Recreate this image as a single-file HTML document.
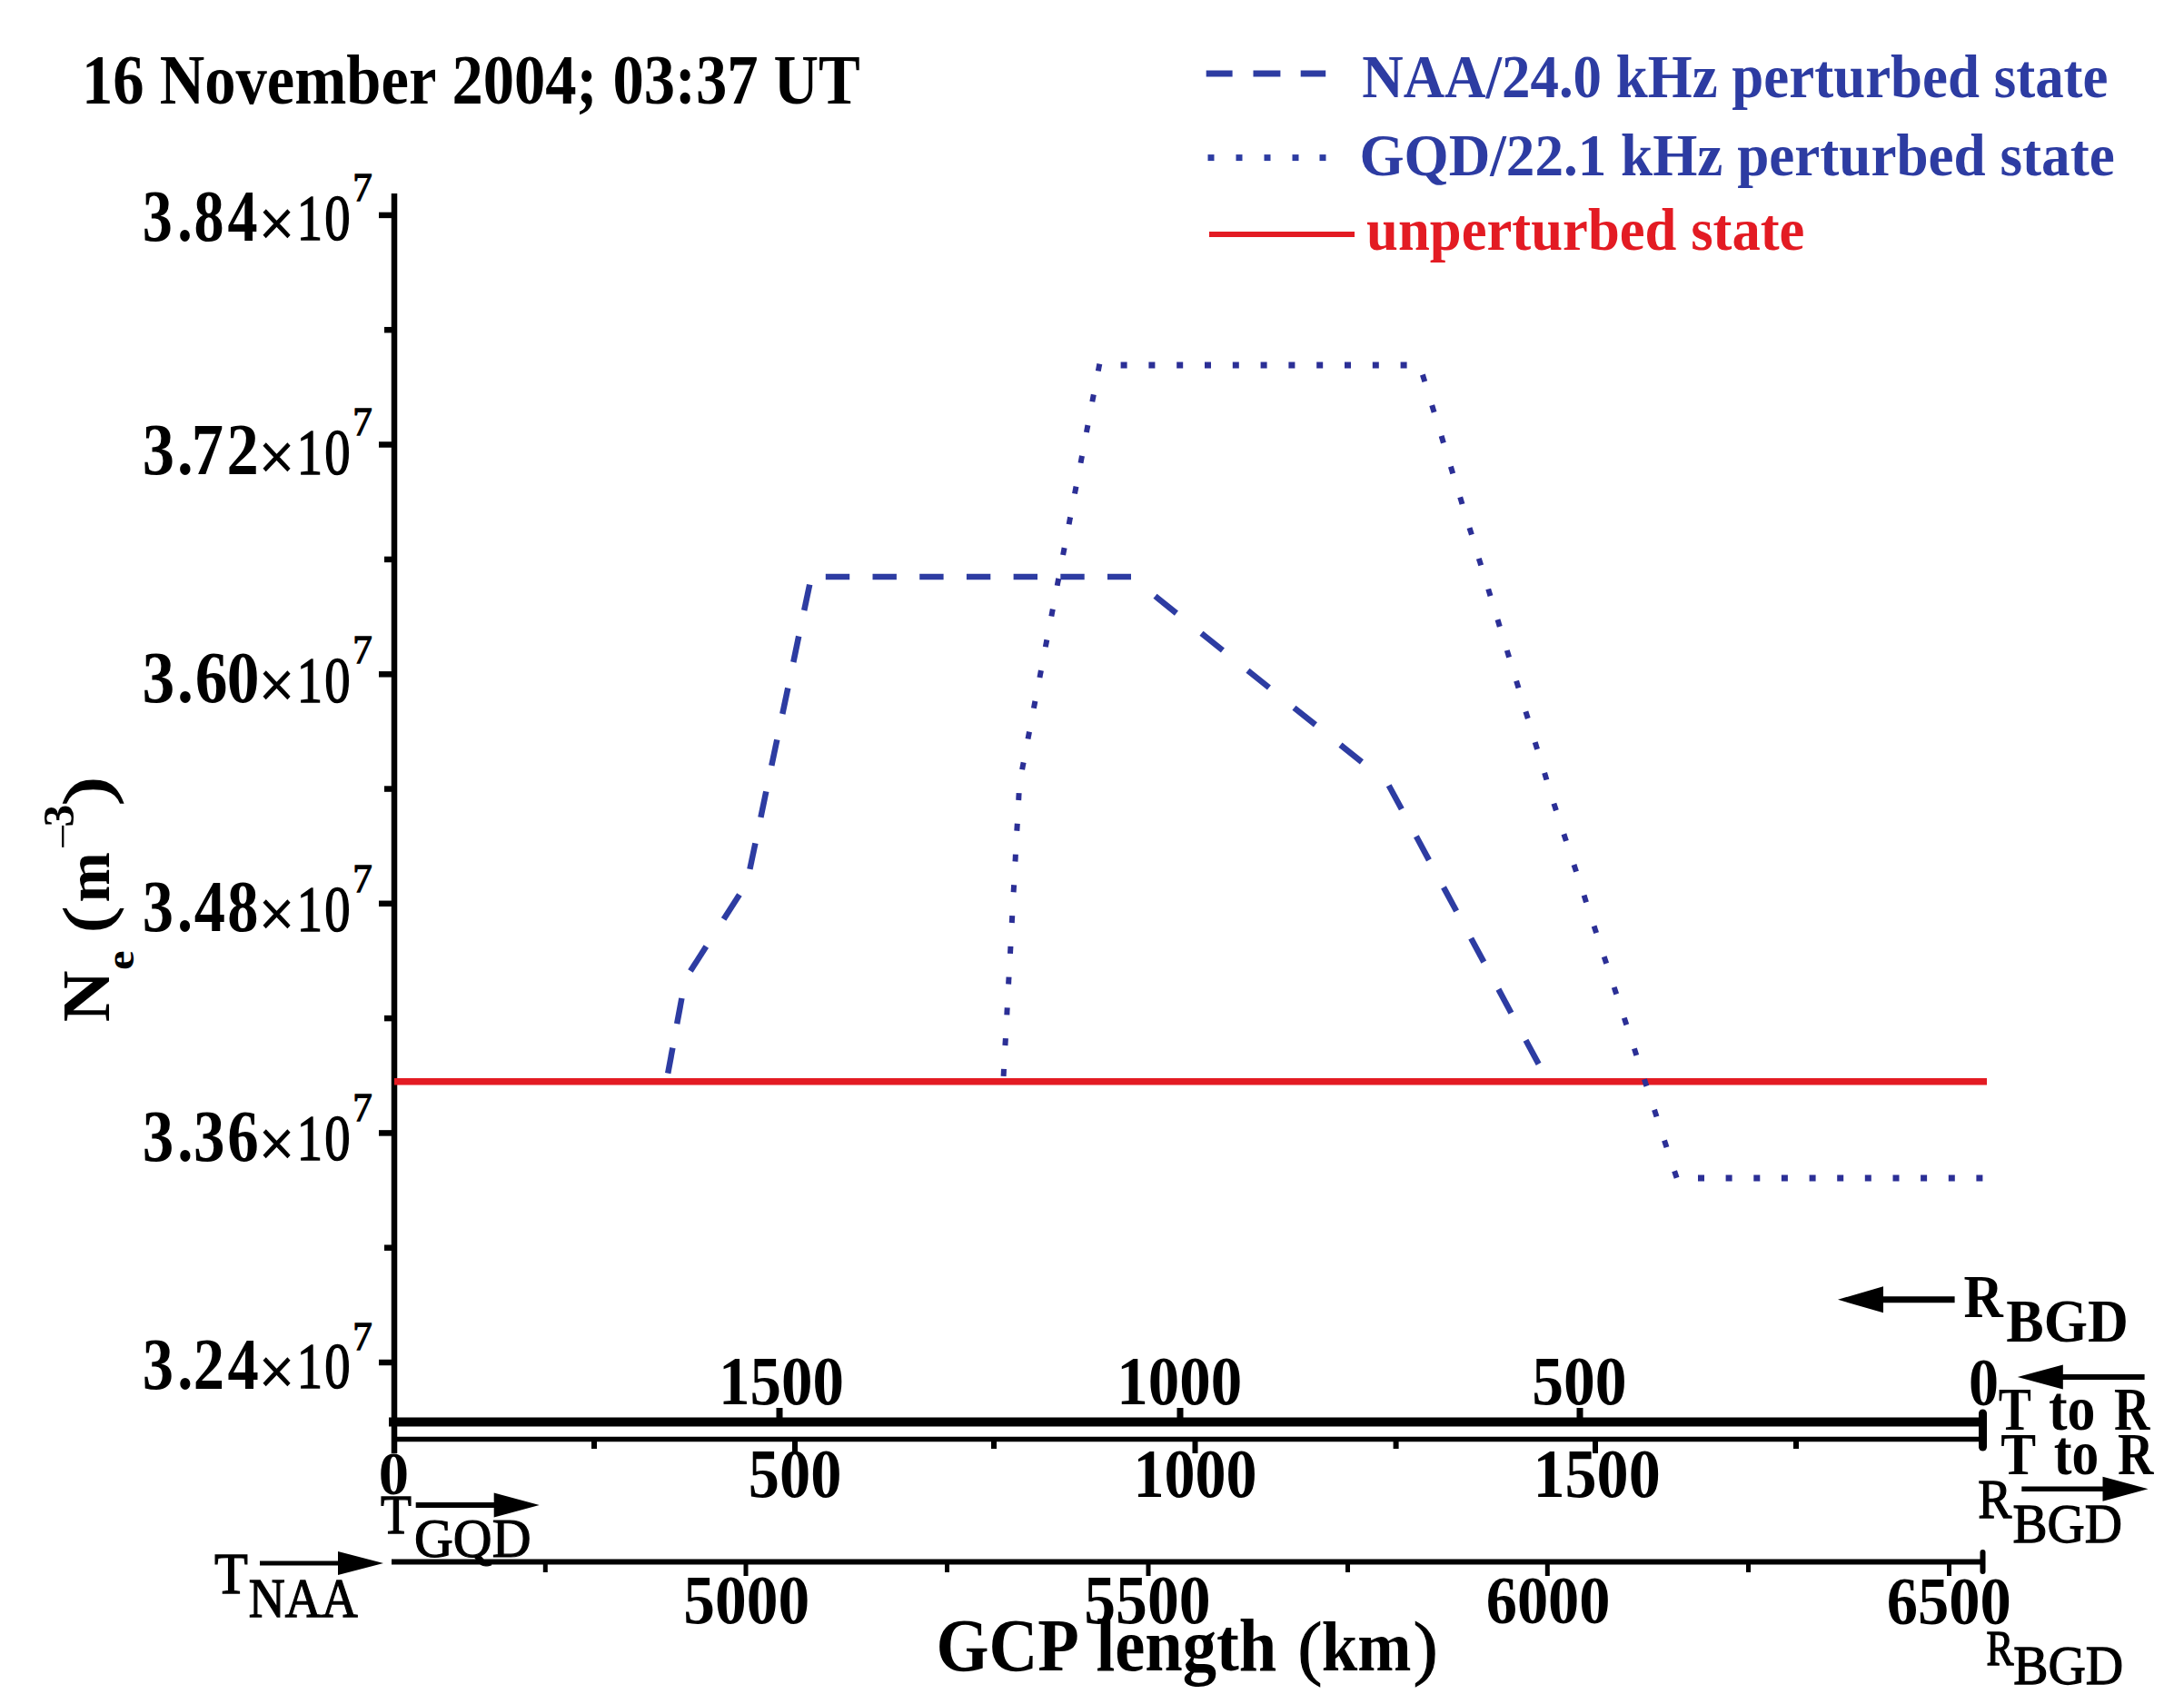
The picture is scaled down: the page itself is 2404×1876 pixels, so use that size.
<!DOCTYPE html>
<html><head><meta charset="utf-8"><title>Ne along GCP</title>
<style>
html,body{margin:0;padding:0;background:#fff;}
svg{display:block;}
text{font-family:"Liberation Serif","Times New Roman",serif;font-kerning:none;}
</style></head><body>
<svg width="2404" height="1876" viewBox="0 0 2404 1876">
<rect width="2404" height="1876" fill="#fff"/>
<text transform="translate(90.1 113.5) scale(0.887 1)" font-size="77.3" font-weight="700" fill="#000">16 November 2004; 03:37 UT</text>
<text transform="translate(1499.2 106.5) scale(0.916 1)" font-size="68.7" font-weight="700" fill="#2d3ca2">NAA/24.0 kHz perturbed state</text>
<text transform="translate(1496.5 193.0) scale(0.951 1)" font-size="66.4" font-weight="700" fill="#2d3ca2">GQD/22.1 kHz perturbed state</text>
<text transform="translate(1504.1 275.1) scale(0.950 1)" font-size="66.0" font-weight="700" fill="#e31b23">unperturbed state</text>
<line x1="1327.7" y1="81" x2="1356.6" y2="81" stroke="#2d3ca2" stroke-width="7" stroke-linecap="butt"/>
<line x1="1379.5" y1="81" x2="1409.4" y2="81" stroke="#2d3ca2" stroke-width="7" stroke-linecap="butt"/>
<line x1="1431.7" y1="81" x2="1459.2" y2="81" stroke="#2d3ca2" stroke-width="7" stroke-linecap="butt"/>
<line x1="1329.5" y1="173.6" x2="1336.5" y2="173.6" stroke="#2d3ca2" stroke-width="7" stroke-linecap="butt"/>
<line x1="1360.5" y1="173.6" x2="1367.5" y2="173.6" stroke="#2d3ca2" stroke-width="7" stroke-linecap="butt"/>
<line x1="1391.5" y1="173.6" x2="1398.5" y2="173.6" stroke="#2d3ca2" stroke-width="7" stroke-linecap="butt"/>
<line x1="1422.5" y1="173.6" x2="1429.5" y2="173.6" stroke="#2d3ca2" stroke-width="7" stroke-linecap="butt"/>
<line x1="1452.5" y1="173.6" x2="1459.5" y2="173.6" stroke="#2d3ca2" stroke-width="7" stroke-linecap="butt"/>
<line x1="1331" y1="258" x2="1491" y2="258" stroke="#e31b23" stroke-width="6" stroke-linecap="butt"/>
<line x1="434" y1="213" x2="434" y2="1600" stroke="#000" stroke-width="6.5" stroke-linecap="butt"/>
<line x1="417" y1="236.9" x2="434" y2="236.9" stroke="#000" stroke-width="6.5" stroke-linecap="butt"/>
<line x1="417" y1="489.5" x2="434" y2="489.5" stroke="#000" stroke-width="6.5" stroke-linecap="butt"/>
<line x1="417" y1="742.3" x2="434" y2="742.3" stroke="#000" stroke-width="6.5" stroke-linecap="butt"/>
<line x1="417" y1="994.8" x2="434" y2="994.8" stroke="#000" stroke-width="6.5" stroke-linecap="butt"/>
<line x1="417" y1="1247.4" x2="434" y2="1247.4" stroke="#000" stroke-width="6.5" stroke-linecap="butt"/>
<line x1="417" y1="1500" x2="434" y2="1500" stroke="#000" stroke-width="6.5" stroke-linecap="butt"/>
<line x1="423" y1="363.2" x2="434" y2="363.2" stroke="#000" stroke-width="6.5" stroke-linecap="butt"/>
<line x1="423" y1="615.9" x2="434" y2="615.9" stroke="#000" stroke-width="6.5" stroke-linecap="butt"/>
<line x1="423" y1="868.55" x2="434" y2="868.55" stroke="#000" stroke-width="6.5" stroke-linecap="butt"/>
<line x1="423" y1="1121.1" x2="434" y2="1121.1" stroke="#000" stroke-width="6.5" stroke-linecap="butt"/>
<line x1="423" y1="1373.7" x2="434" y2="1373.7" stroke="#000" stroke-width="6.5" stroke-linecap="butt"/>
<text transform="translate(0 264.7) scale(0.828 1)" x="189.4 235.9 257.7 302.6" font-size="79.8" font-weight="700" fill="#000">3.84</text>
<text transform="translate(284.8 270.8) scale(0.951 1)" font-size="73.7" font-weight="400" fill="#000" stroke="#000" stroke-width="1.26">×</text>
<text transform="translate(0 264.1) scale(0.782 1)" x="417.7 456.9" font-size="72.4" font-weight="400" fill="#000" stroke="#000" stroke-width="1.53">10</text>
<text transform="translate(388.2 221.2) scale(0.953 1)" font-size="45.1" font-weight="400" fill="#000" stroke="#000" stroke-width="1.26">7</text>
<text transform="translate(0 522.1) scale(0.884 1)" x="177.2 220.6 238.5 282.3" font-size="79.8" font-weight="700" fill="#000">3.72</text>
<text transform="translate(284.8 528.2) scale(0.951 1)" font-size="73.7" font-weight="400" fill="#000" stroke="#000" stroke-width="1.26">×</text>
<text transform="translate(0 521.5) scale(0.782 1)" x="417.7 456.9" font-size="72.4" font-weight="400" fill="#000" stroke="#000" stroke-width="1.53">10</text>
<text transform="translate(388.2 478.6) scale(0.953 1)" font-size="45.1" font-weight="400" fill="#000" stroke="#000" stroke-width="1.26">7</text>
<text transform="translate(0 773.3) scale(0.896 1)" x="174.7 217.6 239.8 278.8" font-size="79.8" font-weight="700" fill="#000">3.60</text>
<text transform="translate(284.8 779.4) scale(0.951 1)" font-size="73.7" font-weight="400" fill="#000" stroke="#000" stroke-width="1.26">×</text>
<text transform="translate(0 772.7) scale(0.782 1)" x="417.7 456.9" font-size="72.4" font-weight="400" fill="#000" stroke="#000" stroke-width="1.53">10</text>
<text transform="translate(388.2 729.8) scale(0.953 1)" font-size="45.1" font-weight="400" fill="#000" stroke="#000" stroke-width="1.26">7</text>
<text transform="translate(0 1025.3) scale(0.858 1)" x="182.6 227.4 249.2 291.6" font-size="79.8" font-weight="700" fill="#000">3.48</text>
<text transform="translate(284.8 1031.4) scale(0.951 1)" font-size="73.7" font-weight="400" fill="#000" stroke="#000" stroke-width="1.26">×</text>
<text transform="translate(0 1024.7) scale(0.782 1)" x="417.7 456.9" font-size="72.4" font-weight="400" fill="#000" stroke="#000" stroke-width="1.53">10</text>
<text transform="translate(388.2 981.8) scale(0.953 1)" font-size="45.1" font-weight="400" fill="#000" stroke="#000" stroke-width="1.26">7</text>
<text transform="translate(0 1277.8) scale(0.864 1)" x="181.4 225.9 246.4 289.7" font-size="79.8" font-weight="700" fill="#000">3.36</text>
<text transform="translate(284.8 1283.9) scale(0.951 1)" font-size="73.7" font-weight="400" fill="#000" stroke="#000" stroke-width="1.26">×</text>
<text transform="translate(0 1277.2) scale(0.782 1)" x="417.7 456.9" font-size="72.4" font-weight="400" fill="#000" stroke="#000" stroke-width="1.53">10</text>
<text transform="translate(388.2 1234.3) scale(0.953 1)" font-size="45.1" font-weight="400" fill="#000" stroke="#000" stroke-width="1.26">7</text>
<text transform="translate(0 1529.0) scale(0.859 1)" x="182.5 227.3 247.6 291.7" font-size="79.8" font-weight="700" fill="#000">3.24</text>
<text transform="translate(284.8 1535.1) scale(0.951 1)" font-size="73.7" font-weight="400" fill="#000" stroke="#000" stroke-width="1.26">×</text>
<text transform="translate(0 1528.4) scale(0.782 1)" x="417.7 456.9" font-size="72.4" font-weight="400" fill="#000" stroke="#000" stroke-width="1.53">10</text>
<text transform="translate(388.2 1485.5) scale(0.953 1)" font-size="45.1" font-weight="400" fill="#000" stroke="#000" stroke-width="1.26">7</text>
<g transform="translate(119.2 1130) rotate(-90)"><text transform="translate(4.7 0.4) scale(1.056 1)" font-size="74.4" font-weight="700">N</text><text transform="translate(61.9 28.0) scale(1.075 1)" font-size="45.1" font-weight="700">e</text><text transform="translate(103.5 0.5) scale(1.196 1)" font-size="71.3" font-weight="400" stroke="#000" stroke-width="1.5">(</text><text transform="translate(136.4 0.4) scale(0.969 1)" font-size="68.5" font-weight="700">m</text><text transform="translate(194.7 -34.2) scale(1.097 1)" font-size="47.0" font-weight="400">−</text><text transform="translate(219.4 -38.7) scale(1.010 1)" font-size="48.8" font-weight="700">3</text><text transform="translate(243.3 0.5) scale(1.327 1)" font-size="71.3" font-weight="400" stroke="#000" stroke-width="1.5">)</text></g>
<line x1="434" y1="1190.8" x2="2187" y2="1190.8" stroke="#e31b23" stroke-width="7.5" stroke-linecap="butt"/>
<line x1="735.2" y1="1181.7" x2="740.4" y2="1153.6" stroke="#2d3ca2" stroke-width="6.5" stroke-linecap="butt"/>
<line x1="745.2" y1="1127.1" x2="750.4" y2="1099.0" stroke="#2d3ca2" stroke-width="6.5" stroke-linecap="butt"/>
<line x1="760.0" y1="1069.0" x2="777.3" y2="1042.1" stroke="#2d3ca2" stroke-width="6.5" stroke-linecap="butt"/>
<line x1="796.6" y1="1011.9" x2="813.9" y2="985.0" stroke="#2d3ca2" stroke-width="6.5" stroke-linecap="butt"/>
<line x1="825.4" y1="956.8" x2="831.4" y2="928.4" stroke="#2d3ca2" stroke-width="6.5" stroke-linecap="butt"/>
<line x1="837.4" y1="899.9" x2="843.3" y2="871.4" stroke="#2d3ca2" stroke-width="6.5" stroke-linecap="butt"/>
<line x1="849.3" y1="842.9" x2="855.3" y2="814.4" stroke="#2d3ca2" stroke-width="6.5" stroke-linecap="butt"/>
<line x1="861.3" y1="786.0" x2="867.3" y2="757.5" stroke="#2d3ca2" stroke-width="6.5" stroke-linecap="butt"/>
<line x1="873.3" y1="729.0" x2="879.2" y2="700.5" stroke="#2d3ca2" stroke-width="6.5" stroke-linecap="butt"/>
<line x1="885.2" y1="672.0" x2="891.2" y2="643.6" stroke="#2d3ca2" stroke-width="6.5" stroke-linecap="butt"/>
<line x1="908.8" y1="635.0" x2="935.2" y2="635.0" stroke="#2d3ca2" stroke-width="6.5" stroke-linecap="butt"/>
<line x1="960.5" y1="635.0" x2="986.9" y2="635.0" stroke="#2d3ca2" stroke-width="6.5" stroke-linecap="butt"/>
<line x1="1012.2" y1="635.0" x2="1038.6" y2="635.0" stroke="#2d3ca2" stroke-width="6.5" stroke-linecap="butt"/>
<line x1="1063.9" y1="635.0" x2="1090.3" y2="635.0" stroke="#2d3ca2" stroke-width="6.5" stroke-linecap="butt"/>
<line x1="1115.6" y1="635.0" x2="1142.0" y2="635.0" stroke="#2d3ca2" stroke-width="6.5" stroke-linecap="butt"/>
<line x1="1167.3" y1="635.0" x2="1193.7" y2="635.0" stroke="#2d3ca2" stroke-width="6.5" stroke-linecap="butt"/>
<line x1="1219.0" y1="635.0" x2="1245.0" y2="635.0" stroke="#2d3ca2" stroke-width="6.5" stroke-linecap="butt"/>
<line x1="1271.5" y1="656.3" x2="1294.9" y2="675.1" stroke="#2d3ca2" stroke-width="6.5" stroke-linecap="butt"/>
<line x1="1322.5" y1="697.2" x2="1345.9" y2="716.0" stroke="#2d3ca2" stroke-width="6.5" stroke-linecap="butt"/>
<line x1="1373.5" y1="738.2" x2="1396.9" y2="757.0" stroke="#2d3ca2" stroke-width="6.5" stroke-linecap="butt"/>
<line x1="1424.5" y1="779.2" x2="1447.9" y2="797.9" stroke="#2d3ca2" stroke-width="6.5" stroke-linecap="butt"/>
<line x1="1475.5" y1="820.1" x2="1498.9" y2="838.9" stroke="#2d3ca2" stroke-width="6.5" stroke-linecap="butt"/>
<line x1="1528.7" y1="864.7" x2="1542.8" y2="890.8" stroke="#2d3ca2" stroke-width="6.5" stroke-linecap="butt"/>
<line x1="1558.9" y1="920.8" x2="1572.9" y2="946.9" stroke="#2d3ca2" stroke-width="6.5" stroke-linecap="butt"/>
<line x1="1589.0" y1="976.9" x2="1603.1" y2="1003.0" stroke="#2d3ca2" stroke-width="6.5" stroke-linecap="butt"/>
<line x1="1619.2" y1="1033.0" x2="1633.3" y2="1059.1" stroke="#2d3ca2" stroke-width="6.5" stroke-linecap="butt"/>
<line x1="1649.4" y1="1089.1" x2="1663.4" y2="1115.3" stroke="#2d3ca2" stroke-width="6.5" stroke-linecap="butt"/>
<line x1="1679.5" y1="1145.2" x2="1693.6" y2="1171.4" stroke="#2d3ca2" stroke-width="6.5" stroke-linecap="butt"/>
<line x1="1104.6" y1="1184.8" x2="1105.0" y2="1176.8" stroke="#2b2f96" stroke-width="6" stroke-linecap="butt"/>
<line x1="1106.4" y1="1151.0" x2="1106.9" y2="1143.1" stroke="#2b2f96" stroke-width="6" stroke-linecap="butt"/>
<line x1="1108.3" y1="1117.3" x2="1108.7" y2="1109.3" stroke="#2b2f96" stroke-width="6" stroke-linecap="butt"/>
<line x1="1110.1" y1="1083.5" x2="1110.5" y2="1075.6" stroke="#2b2f96" stroke-width="6" stroke-linecap="butt"/>
<line x1="1112.0" y1="1049.8" x2="1112.4" y2="1041.8" stroke="#2b2f96" stroke-width="6" stroke-linecap="butt"/>
<line x1="1113.8" y1="1016.0" x2="1114.2" y2="1008.1" stroke="#2b2f96" stroke-width="6" stroke-linecap="butt"/>
<line x1="1115.6" y1="982.3" x2="1116.1" y2="974.3" stroke="#2b2f96" stroke-width="6" stroke-linecap="butt"/>
<line x1="1117.5" y1="948.5" x2="1117.9" y2="940.6" stroke="#2b2f96" stroke-width="6" stroke-linecap="butt"/>
<line x1="1119.3" y1="914.8" x2="1119.8" y2="906.8" stroke="#2b2f96" stroke-width="6" stroke-linecap="butt"/>
<line x1="1121.2" y1="881.0" x2="1121.6" y2="873.1" stroke="#2b2f96" stroke-width="6" stroke-linecap="butt"/>
<line x1="1125.1" y1="847.2" x2="1126.6" y2="839.4" stroke="#2b2f96" stroke-width="6" stroke-linecap="butt"/>
<line x1="1131.5" y1="813.5" x2="1133.0" y2="805.6" stroke="#2b2f96" stroke-width="6" stroke-linecap="butt"/>
<line x1="1137.9" y1="779.7" x2="1139.4" y2="771.9" stroke="#2b2f96" stroke-width="6" stroke-linecap="butt"/>
<line x1="1144.4" y1="746.0" x2="1145.9" y2="738.1" stroke="#2b2f96" stroke-width="6" stroke-linecap="butt"/>
<line x1="1150.8" y1="712.2" x2="1152.3" y2="704.4" stroke="#2b2f96" stroke-width="6" stroke-linecap="butt"/>
<line x1="1157.3" y1="678.5" x2="1158.8" y2="670.6" stroke="#2b2f96" stroke-width="6" stroke-linecap="butt"/>
<line x1="1163.7" y1="644.7" x2="1165.2" y2="636.9" stroke="#2b2f96" stroke-width="6" stroke-linecap="butt"/>
<line x1="1170.1" y1="611.0" x2="1171.6" y2="603.1" stroke="#2b2f96" stroke-width="6" stroke-linecap="butt"/>
<line x1="1176.6" y1="577.2" x2="1178.1" y2="569.4" stroke="#2b2f96" stroke-width="6" stroke-linecap="butt"/>
<line x1="1183.0" y1="543.5" x2="1184.5" y2="535.6" stroke="#2b2f96" stroke-width="6" stroke-linecap="butt"/>
<line x1="1189.5" y1="509.7" x2="1191.0" y2="501.9" stroke="#2b2f96" stroke-width="6" stroke-linecap="butt"/>
<line x1="1195.9" y1="476.0" x2="1197.4" y2="468.1" stroke="#2b2f96" stroke-width="6" stroke-linecap="butt"/>
<line x1="1202.3" y1="442.2" x2="1203.8" y2="434.4" stroke="#2b2f96" stroke-width="6" stroke-linecap="butt"/>
<line x1="1208.8" y1="408.5" x2="1210.3" y2="400.6" stroke="#2b2f96" stroke-width="6" stroke-linecap="butt"/>
<line x1="1233.6" y1="402.0" x2="1240.6" y2="402.0" stroke="#2b2f96" stroke-width="7" stroke-linecap="butt"/>
<line x1="1264.4" y1="402.0" x2="1271.4" y2="402.0" stroke="#2b2f96" stroke-width="7" stroke-linecap="butt"/>
<line x1="1295.2" y1="402.0" x2="1302.2" y2="402.0" stroke="#2b2f96" stroke-width="7" stroke-linecap="butt"/>
<line x1="1326.0" y1="402.0" x2="1333.0" y2="402.0" stroke="#2b2f96" stroke-width="7" stroke-linecap="butt"/>
<line x1="1356.8" y1="402.0" x2="1363.8" y2="402.0" stroke="#2b2f96" stroke-width="7" stroke-linecap="butt"/>
<line x1="1387.6" y1="402.0" x2="1394.6" y2="402.0" stroke="#2b2f96" stroke-width="7" stroke-linecap="butt"/>
<line x1="1418.4" y1="402.0" x2="1425.4" y2="402.0" stroke="#2b2f96" stroke-width="7" stroke-linecap="butt"/>
<line x1="1449.2" y1="402.0" x2="1456.2" y2="402.0" stroke="#2b2f96" stroke-width="7" stroke-linecap="butt"/>
<line x1="1480.0" y1="402.0" x2="1487.0" y2="402.0" stroke="#2b2f96" stroke-width="7" stroke-linecap="butt"/>
<line x1="1510.8" y1="402.0" x2="1517.8" y2="402.0" stroke="#2b2f96" stroke-width="7" stroke-linecap="butt"/>
<line x1="1541.6" y1="402.0" x2="1548.6" y2="402.0" stroke="#2b2f96" stroke-width="7" stroke-linecap="butt"/>
<line x1="1565.9" y1="412.5" x2="1568.3" y2="420.1" stroke="#2b2f96" stroke-width="6" stroke-linecap="butt"/>
<line x1="1576.2" y1="446.2" x2="1578.6" y2="453.8" stroke="#2b2f96" stroke-width="6" stroke-linecap="butt"/>
<line x1="1586.6" y1="479.9" x2="1588.9" y2="487.6" stroke="#2b2f96" stroke-width="6" stroke-linecap="butt"/>
<line x1="1596.9" y1="513.6" x2="1599.2" y2="521.3" stroke="#2b2f96" stroke-width="6" stroke-linecap="butt"/>
<line x1="1607.2" y1="547.4" x2="1609.5" y2="555.0" stroke="#2b2f96" stroke-width="6" stroke-linecap="butt"/>
<line x1="1617.5" y1="581.1" x2="1619.9" y2="588.7" stroke="#2b2f96" stroke-width="6" stroke-linecap="butt"/>
<line x1="1627.8" y1="614.8" x2="1630.2" y2="622.4" stroke="#2b2f96" stroke-width="6" stroke-linecap="butt"/>
<line x1="1638.2" y1="648.5" x2="1640.5" y2="656.2" stroke="#2b2f96" stroke-width="6" stroke-linecap="butt"/>
<line x1="1648.5" y1="682.2" x2="1650.8" y2="689.9" stroke="#2b2f96" stroke-width="6" stroke-linecap="butt"/>
<line x1="1658.8" y1="716.0" x2="1661.1" y2="723.6" stroke="#2b2f96" stroke-width="6" stroke-linecap="butt"/>
<line x1="1669.1" y1="749.7" x2="1671.5" y2="757.3" stroke="#2b2f96" stroke-width="6" stroke-linecap="butt"/>
<line x1="1679.4" y1="783.4" x2="1681.8" y2="791.0" stroke="#2b2f96" stroke-width="6" stroke-linecap="butt"/>
<line x1="1689.7" y1="817.1" x2="1692.1" y2="824.8" stroke="#2b2f96" stroke-width="6" stroke-linecap="butt"/>
<line x1="1700.1" y1="850.8" x2="1702.4" y2="858.5" stroke="#2b2f96" stroke-width="6" stroke-linecap="butt"/>
<line x1="1710.4" y1="884.6" x2="1712.9" y2="892.2" stroke="#2b2f96" stroke-width="6" stroke-linecap="butt"/>
<line x1="1721.4" y1="918.3" x2="1723.9" y2="925.9" stroke="#2b2f96" stroke-width="6" stroke-linecap="butt"/>
<line x1="1732.5" y1="952.0" x2="1735.0" y2="959.6" stroke="#2b2f96" stroke-width="6" stroke-linecap="butt"/>
<line x1="1743.6" y1="985.7" x2="1746.0" y2="993.3" stroke="#2b2f96" stroke-width="6" stroke-linecap="butt"/>
<line x1="1754.6" y1="1019.5" x2="1757.1" y2="1027.1" stroke="#2b2f96" stroke-width="6" stroke-linecap="butt"/>
<line x1="1765.7" y1="1053.2" x2="1768.2" y2="1060.8" stroke="#2b2f96" stroke-width="6" stroke-linecap="butt"/>
<line x1="1776.7" y1="1086.9" x2="1779.2" y2="1094.5" stroke="#2b2f96" stroke-width="6" stroke-linecap="butt"/>
<line x1="1787.8" y1="1120.6" x2="1790.3" y2="1128.2" stroke="#2b2f96" stroke-width="6" stroke-linecap="butt"/>
<line x1="1798.9" y1="1154.3" x2="1801.3" y2="1161.9" stroke="#2b2f96" stroke-width="6" stroke-linecap="butt"/>
<line x1="1809.9" y1="1188.1" x2="1812.4" y2="1195.7" stroke="#2b2f96" stroke-width="6" stroke-linecap="butt"/>
<line x1="1821.0" y1="1221.8" x2="1823.5" y2="1229.4" stroke="#2b2f96" stroke-width="6" stroke-linecap="butt"/>
<line x1="1832.0" y1="1255.5" x2="1834.5" y2="1263.1" stroke="#2b2f96" stroke-width="6" stroke-linecap="butt"/>
<line x1="1843.1" y1="1289.2" x2="1845.6" y2="1296.8" stroke="#2b2f96" stroke-width="6" stroke-linecap="butt"/>
<line x1="1869.0" y1="1297.0" x2="1876.0" y2="1297.0" stroke="#2b2f96" stroke-width="7" stroke-linecap="butt"/>
<line x1="1899.6" y1="1297.0" x2="1906.6" y2="1297.0" stroke="#2b2f96" stroke-width="7" stroke-linecap="butt"/>
<line x1="1930.3" y1="1297.0" x2="1937.3" y2="1297.0" stroke="#2b2f96" stroke-width="7" stroke-linecap="butt"/>
<line x1="1960.9" y1="1297.0" x2="1967.9" y2="1297.0" stroke="#2b2f96" stroke-width="7" stroke-linecap="butt"/>
<line x1="1991.6" y1="1297.0" x2="1998.6" y2="1297.0" stroke="#2b2f96" stroke-width="7" stroke-linecap="butt"/>
<line x1="2022.2" y1="1297.0" x2="2029.2" y2="1297.0" stroke="#2b2f96" stroke-width="7" stroke-linecap="butt"/>
<line x1="2052.8" y1="1297.0" x2="2059.8" y2="1297.0" stroke="#2b2f96" stroke-width="7" stroke-linecap="butt"/>
<line x1="2083.5" y1="1297.0" x2="2090.5" y2="1297.0" stroke="#2b2f96" stroke-width="7" stroke-linecap="butt"/>
<line x1="2114.1" y1="1297.0" x2="2121.1" y2="1297.0" stroke="#2b2f96" stroke-width="7" stroke-linecap="butt"/>
<line x1="2144.8" y1="1297.0" x2="2151.8" y2="1297.0" stroke="#2b2f96" stroke-width="7" stroke-linecap="butt"/>
<line x1="2175.4" y1="1297.0" x2="2182.4" y2="1297.0" stroke="#2b2f96" stroke-width="7" stroke-linecap="butt"/>
<line x1="428" y1="1565.5" x2="2182" y2="1565.5" stroke="#000" stroke-width="10" stroke-linecap="butt"/>
<line x1="434" y1="1584.6" x2="2182" y2="1584.6" stroke="#000" stroke-width="5.5" stroke-linecap="butt"/>
<line x1="2182.5" y1="1556" x2="2182.5" y2="1593" stroke="#000" stroke-width="9" stroke-linecap="round"/>
<line x1="858" y1="1550" x2="858" y2="1565" stroke="#000" stroke-width="7" stroke-linecap="butt"/>
<line x1="1299" y1="1550" x2="1299" y2="1565" stroke="#000" stroke-width="7" stroke-linecap="butt"/>
<line x1="1739" y1="1550" x2="1739" y2="1565" stroke="#000" stroke-width="7" stroke-linecap="butt"/>
<line x1="875" y1="1584" x2="875" y2="1600" stroke="#000" stroke-width="6" stroke-linecap="butt"/>
<line x1="1315.5" y1="1584" x2="1315.5" y2="1600" stroke="#000" stroke-width="6" stroke-linecap="butt"/>
<line x1="1756" y1="1584" x2="1756" y2="1600" stroke="#000" stroke-width="6" stroke-linecap="butt"/>
<line x1="654" y1="1584" x2="654" y2="1595" stroke="#000" stroke-width="6" stroke-linecap="butt"/>
<line x1="1094" y1="1584" x2="1094" y2="1595" stroke="#000" stroke-width="6" stroke-linecap="butt"/>
<line x1="1536.6" y1="1584" x2="1536.6" y2="1595" stroke="#000" stroke-width="6" stroke-linecap="butt"/>
<line x1="1977" y1="1584" x2="1977" y2="1595" stroke="#000" stroke-width="6" stroke-linecap="butt"/>
<line x1="431" y1="1719.5" x2="2182" y2="1719.5" stroke="#000" stroke-width="6" stroke-linecap="butt"/>
<line x1="2182.5" y1="1709" x2="2182.5" y2="1730" stroke="#000" stroke-width="6" stroke-linecap="round"/>
<line x1="821" y1="1719" x2="821" y2="1735" stroke="#000" stroke-width="5" stroke-linecap="butt"/>
<line x1="1264" y1="1719" x2="1264" y2="1735" stroke="#000" stroke-width="5" stroke-linecap="butt"/>
<line x1="1703.3" y1="1719" x2="1703.3" y2="1735" stroke="#000" stroke-width="5" stroke-linecap="butt"/>
<line x1="2145.5" y1="1719" x2="2145.5" y2="1735" stroke="#000" stroke-width="5" stroke-linecap="butt"/>
<line x1="600.3" y1="1719" x2="600.3" y2="1731" stroke="#000" stroke-width="5" stroke-linecap="butt"/>
<line x1="1042.5" y1="1719" x2="1042.5" y2="1731" stroke="#000" stroke-width="5" stroke-linecap="butt"/>
<line x1="1483.5" y1="1719" x2="1483.5" y2="1731" stroke="#000" stroke-width="5" stroke-linecap="butt"/>
<line x1="1924.5" y1="1719" x2="1924.5" y2="1731" stroke="#000" stroke-width="5" stroke-linecap="butt"/>
<text transform="translate(790.9 1545.5) scale(0.908 1)" font-size="76.0" font-weight="700" fill="#000">1500</text>
<text transform="translate(1229.3 1545.5) scale(0.908 1)" font-size="76.0" font-weight="700" fill="#000">1000</text>
<text transform="translate(1686.2 1546.0) scale(0.921 1)" font-size="75.6" font-weight="700" fill="#000">500</text>
<text transform="translate(2166.9 1547.0) scale(0.900 1)" font-size="73.4" font-weight="700" fill="#000">0</text>
<text transform="translate(416.7 1645.1) scale(0.975 1)" font-size="68.3" font-weight="700" fill="#000">0</text>
<text transform="translate(823.8 1648.0) scale(0.901 1)" font-size="75.9" font-weight="700" fill="#000">500</text>
<text transform="translate(1247.6 1648.0) scale(0.903 1)" font-size="75.3" font-weight="700" fill="#000">1000</text>
<text transform="translate(1687.4 1648.0) scale(0.932 1)" font-size="75.3" font-weight="700" fill="#000">1500</text>
<text transform="translate(752.2 1787.2) scale(0.925 1)" font-size="75.1" font-weight="700" fill="#000">5000</text>
<text transform="translate(1193.2 1787.2) scale(0.928 1)" font-size="75.1" font-weight="700" fill="#000">5500</text>
<text transform="translate(1635.7 1787.2) scale(0.921 1)" font-size="74.3" font-weight="700" fill="#000">6000</text>
<text transform="translate(2076.7 1787.6) scale(0.927 1)" font-size="73.9" font-weight="700" fill="#000">6500</text>
<text transform="translate(1030.4 1839.3) scale(0.914 1)" font-size="81.6" font-weight="700" fill="#000">GCP length</text>
<text transform="translate(1428.4 1839.8) scale(1.017 1)" font-size="78.9" font-weight="400" fill="#000" stroke="#000" stroke-width="1.18">(</text>
<text transform="translate(1454.8 1839.4) scale(0.900 1)" font-size="78.9" font-weight="700" fill="#000">km</text>
<text transform="translate(1555.7 1839.8) scale(1.022 1)" font-size="78.9" font-weight="400" fill="#000" stroke="#000" stroke-width="1.17">)</text>
<text transform="translate(419.0 1688.0) scale(0.902 1)" font-size="61.5" font-weight="400" fill="#000" stroke="#000" stroke-width="1.33">T</text>
<text transform="translate(456.0 1714.4) scale(0.985 1)" font-size="60.2" font-weight="400" fill="#000" stroke="#000" stroke-width="1.22">GQD</text>
<line x1="457.7" y1="1657" x2="545.7" y2="1657" stroke="#000" stroke-width="6" stroke-linecap="butt"/>
<polygon points="543.7,1643.5 593.7,1657.0 543.7,1670.5" fill="#000"/>
<text transform="translate(236.0 1753.5) scale(0.946 1)" font-size="63.8" font-weight="400" fill="#000" stroke="#000" stroke-width="1.27">T</text>
<text transform="translate(273.8 1780.2) scale(0.910 1)" font-size="60.8" font-weight="400" fill="#000" stroke="#000" stroke-width="1.32">NAA</text>
<line x1="286" y1="1721" x2="374" y2="1721" stroke="#000" stroke-width="5" stroke-linecap="butt"/>
<polygon points="372.0,1708.0 422.0,1721.0 372.0,1734.0" fill="#000"/>
<line x1="2151.6" y1="1430.8" x2="2071" y2="1430.8" stroke="#000" stroke-width="7" stroke-linecap="butt"/>
<polygon points="2073.0,1416.3 2023.0,1430.8 2073.0,1445.3" fill="#000"/>
<text transform="translate(2161.4 1450.2) scale(0.882 1)" font-size="68.0" font-weight="700" fill="#000">R</text>
<text transform="translate(2208.3 1477.4) scale(0.912 1)" font-size="68.0" font-weight="700" fill="#000">BGD</text>
<line x1="2360.6" y1="1516" x2="2268.8" y2="1516" stroke="#000" stroke-width="6" stroke-linecap="butt"/>
<polygon points="2270.8,1502.5 2220.8,1516.0 2270.8,1529.5" fill="#000"/>
<text transform="translate(2199.8 1573.6) scale(0.814 1)" font-size="66.6" font-weight="700" fill="#000">T</text>
<text transform="translate(2254.9 1573.6) scale(0.893 1)" font-size="69.2" font-weight="700" fill="#000">to</text>
<text transform="translate(2327.1 1573.6) scale(0.820 1)" font-size="66.6" font-weight="700" fill="#000">R</text>
<text transform="translate(2202.3 1623.0) scale(0.878 1)" font-size="66.4" font-weight="700" fill="#000">T</text>
<text transform="translate(2260.7 1623.0) scale(0.860 1)" font-size="69.0" font-weight="700" fill="#000">to</text>
<text transform="translate(2331.1 1623.0) scale(0.822 1)" font-size="66.4" font-weight="700" fill="#000">R</text>
<line x1="2225.3" y1="1639.3" x2="2316.5" y2="1639.3" stroke="#000" stroke-width="5.5" stroke-linecap="butt"/>
<polygon points="2314.5,1625.8 2364.5,1639.3 2314.5,1652.8" fill="#000"/>
<text transform="translate(2177.2 1671.1) scale(0.912 1)" font-size="60.8" font-weight="400" fill="#000" stroke="#000" stroke-width="1.32">R</text>
<text transform="translate(2215.5 1698.1) scale(0.938 1)" font-size="60.8" font-weight="400" fill="#000" stroke="#000" stroke-width="1.28">BGD</text>
<text transform="translate(2186.5 1833.4) scale(0.812 1)" font-size="55.1" font-weight="400" fill="#000" stroke="#000" stroke-width="1.48">R</text>
<text transform="translate(2216.2 1853.7) scale(0.925 1)" font-size="62.0" font-weight="400" fill="#000" stroke="#000" stroke-width="1.30">BGD</text>
</svg>
</body></html>
